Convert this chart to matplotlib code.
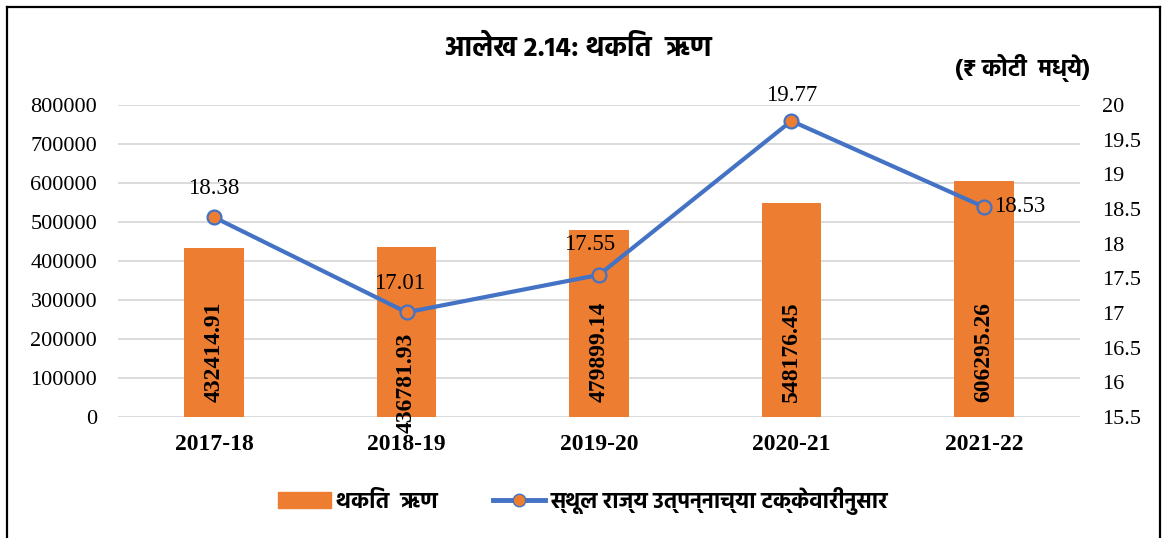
import matplotlib
matplotlib.use("Agg")
import matplotlib.pyplot as plt
from matplotlib.lines import Line2D
import numpy as np

categories = ["2017-18", "2018-19", "2019-20", "2020-21", "2021-22"]
debt = [432414.91, 436781.93, 479899.14, 548176.45, 606295.26]
pct_gsdp = [18.38, 17.01, 17.55, 19.77, 18.53]
left_ticks = [0, 100000, 200000, 300000, 400000, 500000, 600000, 700000, 800000]
right_ticks = [15.5, 16, 16.5, 17, 17.5, 18, 18.5, 19, 19.5, 20]
title = "आलेख 2.14: थकित  ऋण"
unit = "(₹ कोटी  मध्ये)"
legend_bar = "थकित  ऋण"
legend_line = "स्थूल राज्य उत्पन्नाच्या टक्केवारीनुसार"

deva = ["Hind", "DejaVu Sans"]
serif = "Liberation Serif"
W, H = 1173, 538
fig = plt.figure(figsize=(W/100, H/100), dpi=100)
ax = fig.add_axes([118/W, 1-417/H, (1080-118)/W, (417-105)/H])
ax2 = ax.twinx()

x = np.arange(len(categories))
bar_c = "#ED7D31"
line_c = "#4472C4"
ax.bar(x, debt, width=0.31, color=bar_c, zorder=2)
ax.set_ylim(0, 800000)
ax.set_xlim(-0.5, len(categories)-0.5)
ax.set_yticks(left_ticks)
ax.set_yticklabels([str(v) for v in left_ticks], fontfamily=serif, fontsize=16)
ax.set_xticks(x)
ax.set_xticklabels(categories, fontfamily=serif, fontsize=17, fontweight="bold")
ax.grid(axis="y", color="#d9d9d9", linewidth=1.3, zorder=0)
ax.set_axisbelow(True)
ax.tick_params(axis="y", length=0, pad=15)
ax.tick_params(axis="x", length=0, pad=12)
for s in ax.spines.values():
    s.set_visible(False)
for s in ax2.spines.values():
    s.set_visible(False)

for i, v in enumerate(debt):
    yb = 38000 if i != 1 else -42000
    ax.text(i, yb, f"{v:.2f}", rotation=90, ha="center", va="bottom",
            fontfamily=serif, fontsize=17, fontweight="bold", zorder=3, clip_on=False)

ax2.plot(x, pct_gsdp, color=line_c, linewidth=3, marker="o", markersize=10,
         markerfacecolor=bar_c, markeredgecolor=line_c, markeredgewidth=1.6, zorder=4)
ax2.set_ylim(15.5, 20)
ax2.set_yticks(right_ticks)
ax2.set_yticklabels([f"{v:g}" for v in right_ticks], fontfamily=serif, fontsize=16)
ax2.tick_params(length=0, pad=16)

offsets = [(0, 21), (-5, 21), (-7, 22), (0, 18), (26, 0)]
for i, v in enumerate(pct_gsdp):
    dx, dy = offsets[i]
    ax2.annotate(f"{v:.2f}", (i, v), xytext=(dx, dy), textcoords="offset points",
                 ha="center", va="center",
                 fontfamily=serif, fontsize=16.5, zorder=5)

fig.text(578/W, 1-48/H, title, ha="center", va="center", fontsize=20,
         fontweight="bold", family=deva)
fig.text(1090/W, 1-68/H, unit, ha="right", va="center", fontsize=17,
         fontweight="bold", family=deva)

handles = [plt.Rectangle((0, 0), 1, 1, color=bar_c),
           Line2D([0], [0], color=line_c, linewidth=3.5, marker="o", markersize=9,
                  markerfacecolor=bar_c, markeredgecolor=line_c)]
fig.legend(handles, [legend_bar, legend_line], loc="center", bbox_to_anchor=(583/W, 1-501/H),
           ncol=2, frameon=False, handlelength=2.35, handleheight=0.72, columnspacing=2.5,
           handletextpad=0.23,
           prop={"family": deva, "weight": "bold", "size": 16})

kw = dict(color="black", linewidth=1.6, transform=fig.transFigure)
fig.add_artist(Line2D([7/W, 7/W], [0, 1-7/H], **kw))
fig.add_artist(Line2D([7/W, 1160/W], [1-7/H, 1-7/H], **kw))
fig.add_artist(Line2D([1160/W, 1160/W], [0, 1-7/H], **kw))

fig.savefig("out.png", dpi=100)
